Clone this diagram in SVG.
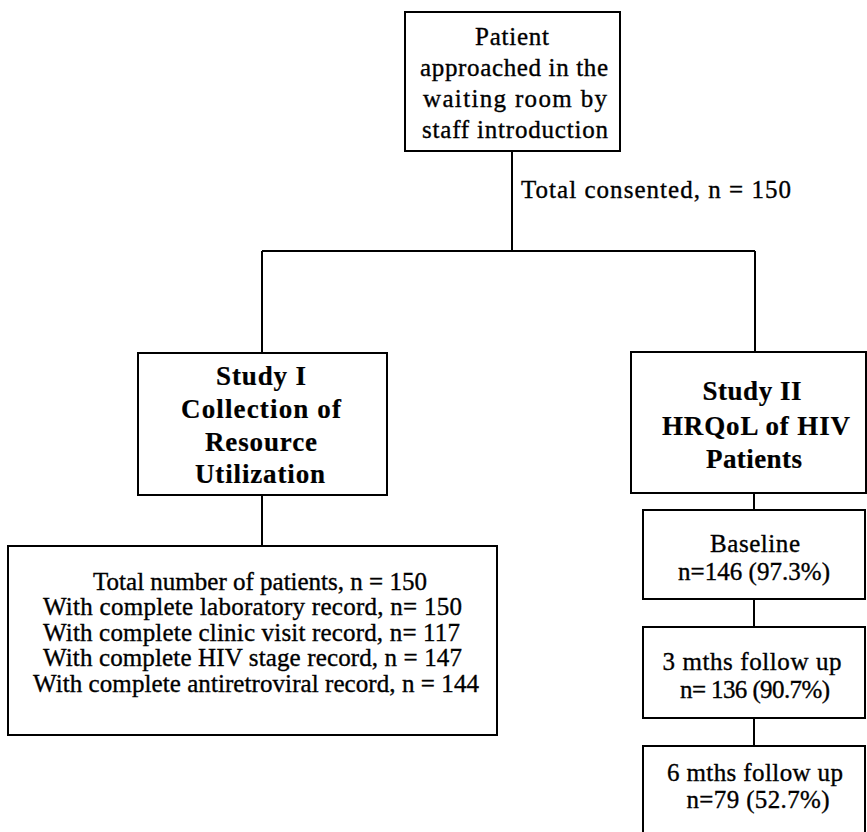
<svg xmlns="http://www.w3.org/2000/svg" width="867" height="832" viewBox="0 0 867 832">
<style>
.box{fill:#fff;stroke:#000;stroke-width:2}
.ln{fill:none;stroke:#000;stroke-width:2}
text{font-family:"Liberation Serif","Times New Roman",serif;fill:#000;stroke:#000;stroke-width:0.35}
.r{font-size:25px}
.b{font-size:27px;font-weight:bold;stroke-width:0.2}
.m{text-anchor:middle}
</style>
<rect x="0" y="0" width="867" height="832" fill="#fff"/>
<g id="connectors">
<path class="ln" d="M512 151 V251"/>
<path class="ln" d="M262 251 H755"/>
<path class="ln" d="M262 251 V353"/>
<path class="ln" d="M755 251 V352"/>
<path class="ln" d="M262 495 V546"/>
<path class="ln" d="M754 493 V510"/>
<path class="ln" d="M754 599 V627"/>
<path class="ln" d="M754 718 V746"/>
<text class="r" x="521" y="198" textLength="270" lengthAdjust="spacing">Total consented, n = 150</text>
</g>
<g id="start">
<rect class="box" x="405" y="12" width="215" height="139"/>
<text class="r m" x="512" y="45" font-size="26" textLength="74" lengthAdjust="spacing">Patient</text>
<text class="r m" x="514" y="76" textLength="188" lengthAdjust="spacing">approached in the</text>
<text class="r m" x="515" y="107" textLength="184" lengthAdjust="spacing">waiting room by</text>
<text class="r m" x="515" y="138" textLength="186" lengthAdjust="spacing">staff introduction</text>
</g>
<g id="study1">
<rect class="box" x="138" y="353" width="249" height="142"/>
<text class="b m" x="261" y="385" textLength="90" lengthAdjust="spacing">Study I</text>
<text class="b m" x="261" y="418" textLength="160" lengthAdjust="spacing">Collection of</text>
<text class="b m" x="261" y="451" textLength="112" lengthAdjust="spacing">Resource</text>
<text class="b m" x="260" y="483" textLength="130" lengthAdjust="spacing">Utilization</text>
</g>
<g id="study2">
<rect class="box" x="631" y="352" width="235" height="141"/>
<text class="b m" x="752" y="400" textLength="99" lengthAdjust="spacing">Study II</text>
<text class="b m" x="756" y="435" textLength="188" lengthAdjust="spacing">HRQoL of HIV</text>
<text class="b m" x="754" y="468" textLength="96" lengthAdjust="spacing">Patients</text>
</g>
<g id="records">
<rect class="box" x="8" y="546" width="489" height="189"/>
<text class="r m" x="260" y="590">Total number of patients, n = 150</text>
<text class="r" x="43" y="615" textLength="419" lengthAdjust="spacing">With complete laboratory record, n= 150</text>
<text class="r" x="43" y="641" textLength="417" lengthAdjust="spacing">With complete clinic visit record, n= 117</text>
<text class="r" x="43" y="666" textLength="419" lengthAdjust="spacing">With complete HIV stage record, n = 147</text>
<text class="r" x="33" y="692" textLength="446" lengthAdjust="spacing">With complete antiretroviral record, n = 144</text>
</g>
<g id="baseline">
<rect class="box" x="643" y="510" width="222" height="89"/>
<text class="r m" x="755" y="552" textLength="90" lengthAdjust="spacing">Baseline</text>
<text class="r m" x="754" y="580" textLength="152" lengthAdjust="spacing">n=146 (97.3%)</text>
</g>
<g id="fu3">
<rect class="box" x="643" y="627" width="222" height="91"/>
<text class="r m" x="752" y="670" textLength="179" lengthAdjust="spacing">3 mths follow up</text>
<text class="r m" x="755" y="698" textLength="150" lengthAdjust="spacing">n= 136 (90.7%)</text>
</g>
<g id="fu6">
<rect class="box" x="643" y="746" width="222" height="92"/>
<text class="r m" x="755" y="781" textLength="176" lengthAdjust="spacing">6 mths follow up</text>
<text class="r m" x="758" y="808" textLength="143" lengthAdjust="spacing">n=79 (52.7%)</text>
</g>
</svg>
